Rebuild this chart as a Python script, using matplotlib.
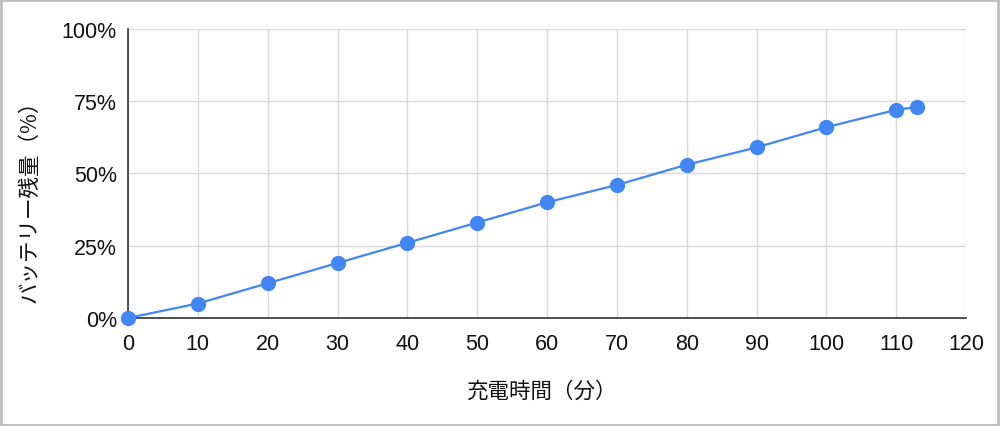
import matplotlib
matplotlib.use("Agg")
import matplotlib.pyplot as plt
from matplotlib.ticker import FuncFormatter
from matplotlib.patches import Rectangle

minutes = [0, 10, 20, 30, 40, 50, 60, 70, 80, 90, 100, 110, 113]
battery = [0, 5, 12, 19, 26, 33, 40, 46, 53, 59, 66, 72, 73]
x_ticks = [0, 10, 20, 30, 40, 50, 60, 70, 80, 90, 100, 110, 120]
y_ticks = [0, 25, 50, 75, 100]
x_label = "充電時間（分）"
y_label = "バッテリー残量（%）"

plt.rcParams['font.family'] = ['Liberation Sans', 'Noto Sans CJK JP', 'DejaVu Sans']

fig = plt.figure(figsize=(10, 4.27), dpi=100)
ax = fig.add_axes([0.128, 0.253, 0.838, 0.677])

color = "#4285F4"
ax.plot(minutes, battery, color=color, lw=1.6, marker='o', ms=10,
        markerfacecolor=color, markeredgecolor=color, clip_on=False, zorder=3)

ax.set_xlim(0, 120)
ax.set_ylim(0, 100)
ax.set_xticks(x_ticks)
ax.set_yticks(y_ticks)
ax.yaxis.set_major_formatter(FuncFormatter(lambda v, p: f"{int(v)}%"))
ax.grid(True, color="#d9d9d9", lw=1)
ax.set_axisbelow(True)
ax.tick_params(length=0, labelsize=15.5, colors="#111111")
ax.tick_params(axis='x', pad=11)
ax.tick_params(axis='y', pad=8)
for s in ['top', 'right']:
    ax.spines[s].set_visible(False)
for s in ['left', 'bottom']:
    ax.spines[s].set_color("#333333")
    ax.spines[s].set_linewidth(1.2)

fig.text(0.541, 0.082, x_label, ha='center', va='center', fontsize=15.5,
         family=['Noto Sans CJK JP', 'DejaVu Sans'], color="#111111")
fig.text(0.030, 0.54, y_label, ha='center', va='center', rotation=90, fontsize=15.5,
         family=['Noto Sans CJK JP', 'DejaVu Sans'], color="#111111")

fig.patches.append(Rectangle((0.001, 0.002), 0.997, 0.995, transform=fig.transFigure,
                             fill=False, edgecolor="#bdbdbd", lw=2))

fig.savefig("out.png", dpi=100)
